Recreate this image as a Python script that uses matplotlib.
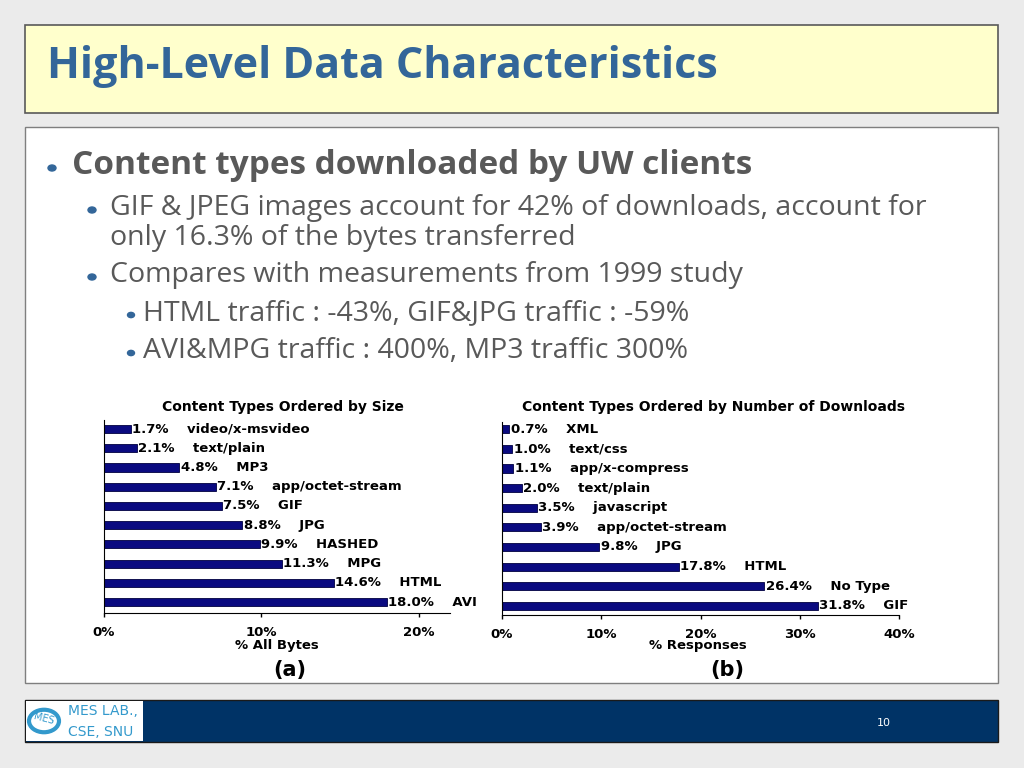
import matplotlib
matplotlib.use("Agg")
import matplotlib.pyplot as plt
from matplotlib.patches import Rectangle, Circle
import numpy as np

# Data
size_types = ['video/x-msvideo', 'text/plain', 'MP3', 'app/octet-stream', 'GIF',
              'JPG', 'HASHED', 'MPG', 'HTML', 'AVI']
size_pct = [1.7, 2.1, 4.8, 7.1, 7.5, 8.8, 9.9, 11.3, 14.6, 18.0]
size_ticks = [0, 10, 20]

dl_types = ['XML', 'text/css', 'app/x-compress', 'text/plain', 'javascript',
            'app/octet-stream', 'JPG', 'HTML', 'No Type', 'GIF']
dl_pct = [0.7, 1.0, 1.1, 2.0, 3.5, 3.9, 9.8, 17.8, 26.4, 31.8]
dl_ticks = [0, 10, 20, 30, 40]

title = "High-Level Data Characteristics"
bullets = [
    (1, ["Content types downloaded by UW clients"]),
    (2, ["GIF & JPEG images account for 42% of downloads, account for",
         "only 16.3% of the bytes transferred"]),
    (2, ["Compares with measurements from 1999 study"]),
    (3, ["HTML traffic : -43%, GIF&JPG traffic : -59%"]),
    (3, ["AVI&MPG traffic : 400%, MP3 traffic 300%"]),
]

W, H = 1024, 768
fig = plt.figure(figsize=(W / 100, H / 100), dpi=100)
fig.patch.set_facecolor('#ebebeb')


def fx(x):
    return x / W


def fy(y):
    return 1 - y / H


def box(x0, y0, x1, y1, fc, ec, lw=1.0):
    fig.patches.append(Rectangle((fx(x0), fy(y1)), fx(x1) - fx(x0), fy(y0) - fy(y1),
                                 transform=fig.transFigure, facecolor=fc,
                                 edgecolor=ec, linewidth=lw, zorder=-2))


# title box and content box
box(25, 25, 998, 113, '#ffffcc', '#595959', 1.2)
box(25, 127, 998, 683, 'white', '#7f7f7f', 1.0)
fig.text(fx(47), fy(67), title, color='#336699', fontsize=31, fontweight='bold',
         family='Open Sans', va='center', ha='left')

# bullet text
txt_col = '#595959'
dot_col = '#336699'
ys = [166, 208, 275, 313, 351]
dot_x = {1: 52, 2: 92, 3: 131}
txt_x = {1: 72, 2: 110, 3: 143}
for (lvl, lines), y in zip(bullets, ys):
    fig.patches.append(Circle((fx(dot_x[lvl]), fy(y + 2)), (4 if lvl < 3 else 3.5) / W,
                              transform=fig.transFigure, color=dot_col, zorder=3))
    for i, t in enumerate(lines):
        if lvl == 1:
            fig.text(fx(txt_x[lvl]), fy(y), t, color=txt_col, fontsize=24,
                     fontweight='bold', va='center', family='Open Sans')
        else:
            fig.text(fx(txt_x[lvl]), fy(y + 30 * i), t, color=txt_col, fontsize=20.5,
                     va='center', family='Open Sans')

chart_font = dict(fontweight='bold', family='DejaVu Sans')


def bar_chart(rect, cats, vals, ticks, xmax, ylim, ttl, xlab, tag, ttl_x, xlab_x, tag_x):
    ax = fig.add_axes(rect)
    y = np.arange(len(cats))
    ax.barh(y, vals, height=0.42, color='#0a0a80', edgecolor='#000040', linewidth=0.6)
    ax.set_ylim(*ylim)
    ax.set_xlim(0, xmax)
    ax.set_yticks([])
    ax.set_xticks(ticks)
    ax.set_xticklabels(['%d%%' % t for t in ticks], fontsize=9.5, **chart_font)
    ax.tick_params(axis='x', length=3, width=1, pad=6)
    ax.spines['top'].set_visible(False)
    ax.spines['right'].set_visible(False)
    ax.set_facecolor('none')
    for yi, v, c in zip(y, vals, cats):
        ax.text(v + xmax * 0.004, yi, '%.1f%%    %s' % (v, c), va='center', ha='left',
                fontsize=9.5, clip_on=False, **chart_font)
    fig.text(fx(ttl_x), fy(407), ttl, ha='center', va='center', fontsize=10, **chart_font)
    fig.text(fx(xlab_x), fy(645), xlab, ha='center', va='center', fontsize=9.5, **chart_font)
    fig.text(fx(tag_x), fy(670), tag, ha='center', va='center', fontsize=15, **chart_font)
    return ax


bar_chart([fx(104), fy(613), (450 - 104) / W, (613 - 420) / H], size_types, size_pct,
          size_ticks, 22, (9.57, -0.47), 'Content Types Ordered by Size', '% All Bytes',
          '(a)', 283, 277, 290)
bar_chart([fx(502), fy(615), (899 - 502) / W, (615 - 422) / H], dl_types, dl_pct,
          dl_ticks, 40, (9.46, -0.36), 'Content Types Ordered by Number of Downloads',
          '% Responses', '(b)', 713, 698, 727)

# footer
box(25, 700, 998, 742, '#003366', '#1a1a1a', 1.0)
box(26, 701, 143, 741, 'white', 'white', 0)
fig.patches.append(Circle((fx(44), fy(721)), 15 / W, transform=fig.transFigure,
                          facecolor='white', edgecolor='#3399cc', linewidth=3))
fig.text(fx(44), fy(719), 'MES', color='#3399cc', fontsize=7, ha='center', va='center',
         rotation=-15)
fig.text(fx(68), fy(711), 'MES LAB.,', color='#3399cc', fontsize=10, va='center')
fig.text(fx(68), fy(732), 'CSE, SNU', color='#3399cc', fontsize=10, va='center')
fig.text(fx(884), fy(723), '10', color='white', fontsize=8, ha='center', va='center')

fig.savefig('out.png', dpi=100, facecolor=fig.get_facecolor())
